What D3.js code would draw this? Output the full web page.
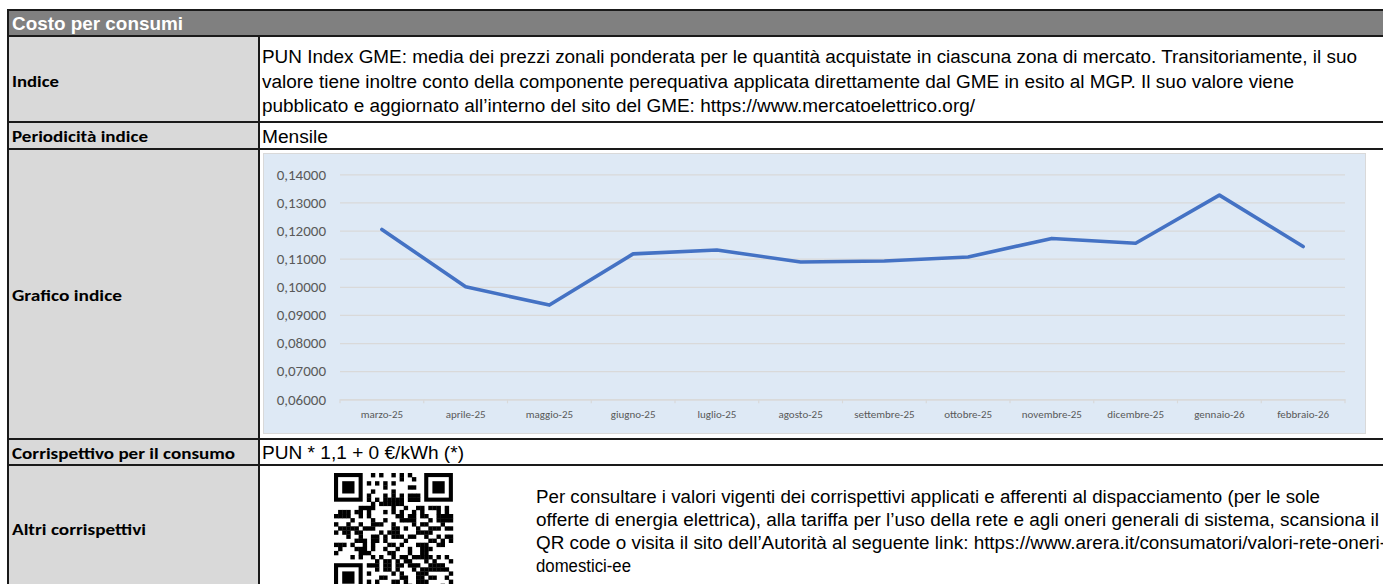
<!DOCTYPE html>
<html>
<head>
<meta charset="utf-8">
<script src="https://cdn.jsdelivr.net/npm/d3@7"></script>
<style>
  body { margin: 0; background: #fff; overflow: hidden; }
  svg { display: block; }
</style>
</head>
<body>
<svg id="sheet" width="1383" height="584"></svg>
<script>
// Dati del grafico
const months = ["marzo-25", "aprile-25", "maggio-25", "giugno-25", "luglio-25", "agosto-25",
  "settembre-25", "ottobre-25", "novembre-25", "dicembre-25", "gennaio-26", "febbraio-26"];
const punValues = [0.1204, 0.1000, 0.0935, 0.1117, 0.1131, 0.1088,
  0.1092, 0.1106, 0.1172, 0.1155, 0.1326, 0.1143];
const yTicks = [0.06, 0.07, 0.08, 0.09, 0.10, 0.11, 0.12, 0.13, 0.14];

// Testi della tabella
const rowLabels = ["Indice", "Periodicità indice", "Grafico indice", "Corrispettivo per il consumo", "Altri corrispettivi"];
const indiceLines = [
  "PUN Index GME: media dei prezzi zonali ponderata per le quantità acquistate in ciascuna zona di mercato. Transitoriamente, il suo",
  "valore tiene inoltre conto della componente perequativa applicata direttamente dal GME in esito al MGP. Il suo valore viene",
  "pubblicato e aggiornato all’interno del sito del GME: https://www.mercatoelettrico.org/"
];
const altriLines = [
  "Per consultare i valori vigenti dei corrispettivi applicati e afferenti al dispacciamento (per le sole",
  "offerte di energia elettrica), alla tariffa per l’uso della rete e agli oneri generali di sistema, scansiona il",
  "QR code o visita il sito dell’Autorità al seguente link: https://www.arera.it/consumatori/valori-rete-oneri-",
  "domestici-ee"
];

const svg = d3.select("#sheet");
const bodyFont = "'Liberation Sans', Arial, sans-serif";
const labelFont = "Carlito, Lato, 'Noto Sans', sans-serif";

// Struttura della tabella
const rowLines = [10, 36, 122, 149, 439, 465];
const leftX = 8, divX = 259;

svg.append("rect").attr("x", leftX).attr("y", 10).attr("width", 1383 - leftX).attr("height", 26).attr("fill", "#808080");
svg.append("rect").attr("x", leftX).attr("y", 36).attr("width", divX - leftX).attr("height", 584 - 36).attr("fill", "#d9d9d9");

svg.append("text")
  .attr("x", 12).attr("y", 30)
  .attr("font-family", bodyFont).attr("font-weight", "bold").attr("font-size", 17.5)
  .attr("fill", "#fff")
  .attr("textLength", 171).attr("lengthAdjust", "spacingAndGlyphs")
  .text("Costo per consumi");

// Etichette della colonna sinistra
const labelY = [87, 142, 301, 459, 535];
const labelW = [47, 136, 110, 223, 134];
svg.selectAll("text.rowlabel")
  .data(rowLabels)
  .join("text")
  .attr("class", "rowlabel")
  .attr("x", 12)
  .attr("y", (d, i) => labelY[i])
  .attr("font-family", labelFont).attr("font-weight", "bold").attr("font-size", 16.5)
  .attr("fill", "#000")
  .attr("textLength", (d, i) => labelW[i]).attr("lengthAdjust", "spacingAndGlyphs")
  .text(d => d);

// Testo Indice
const indiceW = [1095, 1032, 713];
svg.selectAll("text.indice")
  .data(indiceLines)
  .join("text")
  .attr("class", "indice")
  .attr("x", 262)
  .attr("y", (d, i) => 63 + i * 24.5)
  .attr("font-family", bodyFont).attr("font-size", 18)
  .attr("textLength", (d, i) => indiceW[i]).attr("lengthAdjust", "spacingAndGlyphs")
  .text(d => d);

svg.append("text").attr("x", 262).attr("y", 143)
  .attr("font-family", bodyFont).attr("font-size", 18)
  .attr("textLength", 66).attr("lengthAdjust", "spacingAndGlyphs")
  .text("Mensile");

svg.append("text").attr("x", 262).attr("y", 459)
  .attr("font-family", bodyFont).attr("font-size", 18)
  .attr("textLength", 202).attr("lengthAdjust", "spacingAndGlyphs")
  .text("PUN * 1,1 + 0 €/kWh (*)");

const altriW = [784, 843, 850, 95];
svg.selectAll("text.altri")
  .data(altriLines)
  .join("text")
  .attr("class", "altri")
  .attr("x", 536)
  .attr("y", (d, i) => 503 + i * 23)
  .attr("font-family", bodyFont).attr("font-size", 18)
  .attr("textLength", (d, i) => altriW[i]).attr("lengthAdjust", "spacingAndGlyphs")
  .text(d => d);

// QR code (solo decorativo)
const qrN = 29, qrCell = 4.1, qrX = 334, qrY = 473;
const qr = svg.append("g").attr("transform", `translate(${qrX},${qrY})`);
function finder(r, c) {
  qr.append("rect").attr("x", c * qrCell).attr("y", r * qrCell).attr("width", 7 * qrCell).attr("height", 7 * qrCell).attr("fill", "#000");
  qr.append("rect").attr("x", (c + 1) * qrCell).attr("y", (r + 1) * qrCell).attr("width", 5 * qrCell).attr("height", 5 * qrCell).attr("fill", "#fff");
  qr.append("rect").attr("x", (c + 2) * qrCell).attr("y", (r + 2) * qrCell).attr("width", 3 * qrCell).attr("height", 3 * qrCell).attr("fill", "#000");
}
const cells = [];
for (let r = 0; r < qrN; r++) {
  for (let c = 0; c < qrN; c++) {
    const inFinder = (r < 8 && c < 8) || (r < 8 && c >= qrN - 8) || (r >= qrN - 8 && c < 8);
    if (inFinder) continue;
    const h = ((r * 73856093) ^ (c * 19349663) ^ (r * c * 83492791)) >>> 0;
    if (h % 7 < 3 || (r === 6 && c % 2 === 0) || (c === 6 && r % 2 === 0)) cells.push([r, c]);
  }
}
qr.selectAll("rect.m")
  .data(cells)
  .join("rect")
  .attr("class", "m")
  .attr("x", d => d[1] * qrCell).attr("y", d => d[0] * qrCell)
  .attr("width", qrCell + 0.3).attr("height", qrCell + 0.3)
  .attr("fill", "#000");
finder(0, 0); finder(0, qrN - 7); finder(qrN - 7, 0);

// Bordi della tabella
svg.selectAll("line.row")
  .data(rowLines)
  .join("line")
  .attr("class", "row")
  .attr("x1", leftX).attr("x2", 1383)
  .attr("y1", d => d).attr("y2", d => d)
  .attr("stroke", "#1a1a1a").attr("stroke-width", 2);
svg.append("line").attr("x1", leftX).attr("x2", leftX).attr("y1", 9).attr("y2", 584).attr("stroke", "#1a1a1a").attr("stroke-width", 2);
svg.append("line").attr("x1", divX).attr("x2", divX).attr("y1", 36).attr("y2", 584).attr("stroke", "#1a1a1a").attr("stroke-width", 2);

// Grafico
svg.append("rect")
  .attr("x", 263.5).attr("y", 153.5).attr("width", 1102).attr("height", 280)
  .attr("fill", "#dee9f5").attr("stroke", "#d9d9d9");

const x = d3.scaleBand().domain(months).range([340, 1345]);
const y = d3.scaleLinear().domain([0.06, 0.14]).range([399.3, 174.3]);

const fmt = d => d3.format(".5f")(d).replace(".", ",");

const grid = svg.append("g").attr("transform", "translate(340,0)")
  .call(d3.axisLeft(y).tickValues(yTicks).tickSize(-(1345 - 340)).tickFormat(""));
grid.select(".domain").remove();
grid.selectAll(".tick line").attr("stroke", "#d9d9d9").attr("stroke-width", 1.2);

const yAxis = svg.append("g").attr("transform", "translate(340,0)")
  .call(d3.axisLeft(y).tickValues(yTicks).tickSize(0).tickPadding(14).tickFormat(fmt));
yAxis.select(".domain").remove();
yAxis.selectAll("text").attr("font-family", labelFont).attr("font-size", 15).attr("fill", "#595959");

const xAxis = svg.append("g").attr("transform", `translate(0,${y(0.06)})`)
  .call(d3.axisBottom(x).tickSize(0).tickPadding(11));
xAxis.select(".domain").attr("stroke", "#d9d9d9").attr("stroke-width", 1.2);
xAxis.selectAll("text").attr("font-family", labelFont).attr("font-size", 11).attr("fill", "#595959");

// Tacche tra le categorie
const bounds = months.map(m => x(m)).concat([x.range()[1]]);
xAxis.selectAll("line.sep")
  .data(bounds)
  .join("line")
  .attr("class", "sep")
  .attr("x1", d => d).attr("x2", d => d)
  .attr("y1", 0).attr("y2", 4)
  .attr("stroke", "#d9d9d9").attr("stroke-width", 1.2);

const line = d3.line()
  .x((d, i) => x(months[i]) + x.bandwidth() / 2)
  .y(d => y(d));

svg.append("path")
  .datum(punValues)
  .attr("d", line)
  .attr("fill", "none")
  .attr("stroke", "#4472c4")
  .attr("stroke-width", 3.6)
  .attr("stroke-linejoin", "round")
  .attr("stroke-linecap", "round");
</script>
</body>
</html>
